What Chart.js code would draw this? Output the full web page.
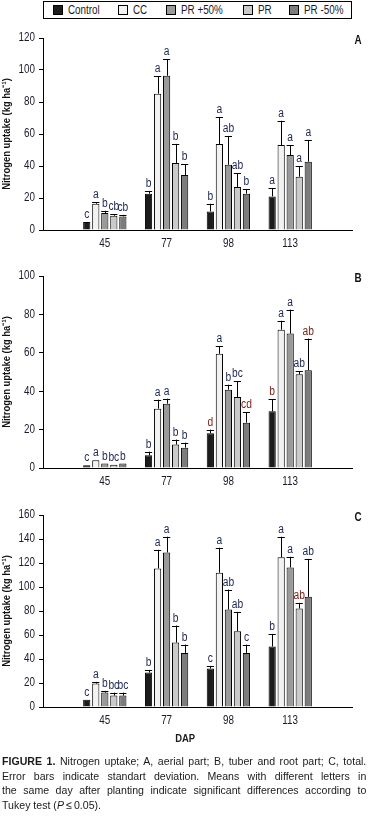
<!DOCTYPE html>
<html><head><meta charset="utf-8">
<script src="https://cdn.jsdelivr.net/npm/chart.js@4/dist/chart.umd.min.js"></script>
<style>
html,body{margin:0;padding:0;background:#fff;}
body{width:371px;height:818px;position:relative;overflow:hidden;font-family:'Liberation Sans',Arial,sans-serif;color:#1a1a1a;}
.panel{position:absolute;left:0;width:371px;height:232px;}
#legend{position:absolute;left:43px;top:1px;width:307px;height:16px;border:1px solid #000;}
.li{position:absolute;top:0;height:16px;line-height:16px;font-size:12px;white-space:nowrap;transform:scaleX(0.82);transform-origin:0 50%;color:#1a1a2a;}
.sw{position:absolute;top:3px;width:8px;height:8px;border:1px solid #000;}
#dap{position:absolute;left:0;width:371px;top:728px;text-align:center;}
#dap span{display:inline-block;font-weight:bold;font-size:11.5px;transform:scaleX(0.82);}
#capwrap{position:absolute;left:2px;top:754px;width:364px;height:64px;overflow:visible;}
#cap{position:absolute;left:0;top:0;width:396px;font-size:11.5px;line-height:14.6px;color:#1a1a1a;transform:scaleX(0.92);transform-origin:0 0;}
#cap div{text-align:justify;text-align-last:justify;white-space:nowrap;}
#cap div.last{text-align:left;text-align-last:left;}
</style></head>
<body>
<div id="legend"></div>
<div class="panel" style="top:26px"><canvas id="cA" width="371" height="232"></canvas></div>
<div class="panel" style="top:264px"><canvas id="cB" width="371" height="232"></canvas></div>
<div class="panel" style="top:503px"><canvas id="cC" width="371" height="232"></canvas></div>
<div id="dap"><span>DAP</span></div>
<div id="capwrap"><div id="cap">
<div><b>FIGURE 1.</b> Nitrogen uptake; A, aerial part; B, tuber and root part; C, total.</div>
<div>Error bars indicate standart deviation. Means with different letters in</div>
<div>the same day after planting indicate significant differences according to</div>
<div class="last">Tukey test (<i>P</i>&thinsp;≤&thinsp;0.05).</div>
</div></div>
<script>
// ---- data ----
const categories = ['45', '77', '98', '113'];
const seriesNames = ['Control', 'CC', 'PR +50%', 'PR', 'PR -50%'];
const seriesColors = ['#1c1c1c', '#f2f2f2', '#9a9a9a', '#cacaca', '#7c7c7c'];

// Panel A: aerial part (rows = series, cols = categories)
const meansA = [
  [5.0, 22.7, 11.6, 21.0],
  [16.4, 85.2, 53.8, 53.1],
  [10.6, 96.4, 40.8, 46.9],
  [8.9, 41.9, 26.9, 33.3],
  [8.5, 34.4, 22.7, 42.7]
];
const sdA = [
  [0, 1.7, 4.8, 5.2],
  [1.1, 11.0, 16.8, 15.2],
  [1.4, 10.5, 18.0, 6.2],
  [1.1, 11.9, 8.7, 6.7],
  [1.0, 6.8, 2.9, 13.6]
];
const lettersA = [
  ['c', 'b', 'b', 'a'],
  ['a', 'a', 'a', 'a'],
  ['b', 'a', 'ab', 'a'],
  ['cb', 'b', 'ab', 'a'],
  ['cb', 'b', 'b', 'a']
];

// Panel B: tuber and root part
const meansB = [
  [1.4, 6.6, 18.1, 29.5],
  [4.0, 30.9, 59.5, 72.0],
  [2.3, 33.5, 40.8, 70.0],
  [1.7, 12.2, 37.0, 48.8],
  [2.3, 10.6, 23.6, 50.9]
];
const sdB = [
  [0, 1.9, 1.9, 6.4],
  [0, 4.7, 4.0, 4.7],
  [0, 2.6, 2.6, 12.5],
  [0, 2.6, 8.3, 1.7],
  [0, 2.6, 5.6, 16.5]
];
const lettersB = [
  ['c', 'b', 'd', 'b'],
  ['a', 'a', 'a', 'a'],
  ['b', 'a', 'b', 'a'],
  ['bc', 'b', 'bc', 'ab'],
  ['b', 'b', 'cd', 'ab']
];

// Panel C: total
const meansC = [
  [6.1, 28.7, 32.0, 50.4],
  [19.5, 115.5, 111.9, 124.7],
  [12.0, 128.8, 81.2, 116.3],
  [9.5, 53.7, 63.2, 82.1],
  [9.5, 45.1, 45.1, 91.8]
];
const sdC = [
  [0, 2.2, 2.2, 10.5],
  [1.4, 15.5, 20.8, 17.2],
  [1.4, 13.1, 16.7, 8.9],
  [2.5, 14.2, 16.1, 4.7],
  [2.5, 6.9, 6.9, 31.7]
];
const lettersC = [
  ['c', 'b', 'c', 'b'],
  ['a', 'a', 'a', 'a'],
  ['b', 'a', 'ab', 'a'],
  ['bc', 'b', 'ab', 'ab'],
  ['bc', 'b', 'c', 'ab']
];

const yTitle = 'Nitrogen uptake (kg ha⁻¹)';
// letters printed in a reddish tone in the source (panel:series:category)
const accentLetters = ['B:0:2', 'B:0:3', 'B:4:2', 'B:4:3', 'C:3:3'];

// ---- styling ----
const FONT = "'Liberation Sans', Arial, sans-serif";
const SX = 0.82; // horizontal condensing of glyphs (condensed typeface look)
const legendX = [9, 74, 122, 199, 245];

// condensed text on canvas
(function () {
  const P = CanvasRenderingContext2D.prototype;
  const ofill = P.fillText;
  const omeasure = P.measureText;
  P.fillText = function (t, x, y, mw) {
    this.save();
    this.translate(x, y);
    this.scale(SX, 1);
    if (mw !== undefined && mw !== null) ofill.call(this, t, 0, 0, mw / SX);
    else ofill.call(this, t, 0, 0);
    this.restore();
  };
  P.measureText = function (t) {
    const m = omeasure.call(this, t);
    return {
      width: m.width * SX,
      actualBoundingBoxAscent: m.actualBoundingBoxAscent,
      actualBoundingBoxDescent: m.actualBoundingBoxDescent,
      actualBoundingBoxLeft: m.actualBoundingBoxLeft * SX,
      actualBoundingBoxRight: m.actualBoundingBoxRight * SX,
      fontBoundingBoxAscent: m.fontBoundingBoxAscent,
      fontBoundingBoxDescent: m.fontBoundingBoxDescent
    };
  };
})();

// legend
const lg = document.getElementById('legend');
seriesNames.forEach((n, i) => {
  const sw = document.createElement('div');
  sw.className = 'sw';
  sw.style.left = legendX[i] + 'px';
  sw.style.background = seriesColors[i];
  lg.appendChild(sw);
  const t = document.createElement('div');
  t.className = 'li';
  t.style.left = (legendX[i] + 15) + 'px';
  t.textContent = n;
  lg.appendChild(t);
});

const pad = a => [null, ...a, null];
const labels = ['', ...categories, ''];

const errPlugin = {
  id: 'errLetters',
  afterDatasetsDraw(chart) {
    const ctx = chart.ctx;
    const ys = chart.scales.y;
    const tag = chart.options.plugins.errLetters.tag;
    ctx.save();
    chart.data.datasets.forEach((ds, di) => {
      const meta = chart.getDatasetMeta(di);
      meta.data.forEach((bar, j) => {
        const v = ds.data[j];
        if (v === null || v === undefined) return;
        const sd = ds.sd[j] || 0;
        const top = ys.getPixelForValue(v);
        const capY = ys.getPixelForValue(v + sd);
        const hw = bar.width / 2;
        if (sd > 0) {
          ctx.strokeStyle = '#000';
          ctx.lineWidth = 1;
          ctx.beginPath();
          ctx.moveTo(Math.round(bar.x) + 0.5, top);
          ctx.lineTo(Math.round(bar.x) + 0.5, capY);
          ctx.moveTo(bar.x - hw, Math.round(capY) + 0.5);
          ctx.lineTo(bar.x + hw, Math.round(capY) + 0.5);
          ctx.stroke();
        }
        const key = tag + ':' + di + ':' + (j - 1);
        ctx.fillStyle = accentLetters.includes(key) ? '#7a2418' : '#1c2450';
        ctx.font = "12.5px " + FONT;
        ctx.textAlign = 'center';
        ctx.textBaseline = 'alphabetic';
        ctx.fillText(ds.letters[j], bar.x, capY - 4);
      });
    });
    // panel tag
    ctx.fillStyle = '#111';
    ctx.font = "bold 12px " + FONT;
    ctx.textAlign = 'center';
    ctx.textBaseline = 'middle';
    ctx.fillText(tag, chart.chartArea.right + 6, chart.chartArea.top + 3);
    ctx.restore();
  }
};

function makeChart(id, tag, means, sds, letters, yMax) {
  const datasets = seriesNames.map((n, i) => ({
    label: n,
    data: pad(means[i]),
    sd: pad(sds[i]),
    letters: pad(letters[i]),
    backgroundColor: seriesColors[i],
    borderColor: '#000',
    borderWidth: 1,
    barPercentage: 0.8,
    categoryPercentage: 0.73
  }));
  new Chart(document.getElementById(id), {
    type: 'bar',
    data: { labels, datasets },
    plugins: [errPlugin],
    options: {
      responsive: false,
      animation: false,
      devicePixelRatio: 1,
      layout: { padding: { top: 12, right: 19, bottom: 0, left: 0 } },
      plugins: {
        legend: { display: false },
        tooltip: { enabled: false },
        errLetters: { tag }
      },
      scales: {
        x: {
          type: 'category',
          offset: false,
          grid: { display: false, drawTicks: false, offset: false },
          border: { display: true, color: '#000', width: 1 },
          ticks: { color: '#1a1a2a', font: { family: FONT, size: 12 }, padding: 6, autoSkip: false, maxRotation: 0 },
          afterFit(s) { s.height = 28; }
        },
        y: {
          min: 0, max: yMax,
          ticks: { stepSize: 20, color: '#1a1a2a', font: { family: FONT, size: 12 }, padding: 4 },
          grid: { display: true, drawOnChartArea: false, drawTicks: true, tickLength: 4, color: '#000' },
          border: { display: true, color: '#000', width: 1 },
          title: { display: true, text: yTitle, color: '#111', font: { family: FONT, size: 11.5, weight: 'bold' }, padding: { top: 0, bottom: 0 } },
          afterFit(s) { s.width = 43; }
        }
      }
    }
  });
}

makeChart('cA', 'A', meansA, sdA, lettersA, 120);
makeChart('cB', 'B', meansB, sdB, lettersB, 100);
makeChart('cC', 'C', meansC, sdC, lettersC, 160);
</script>
</body></html>
